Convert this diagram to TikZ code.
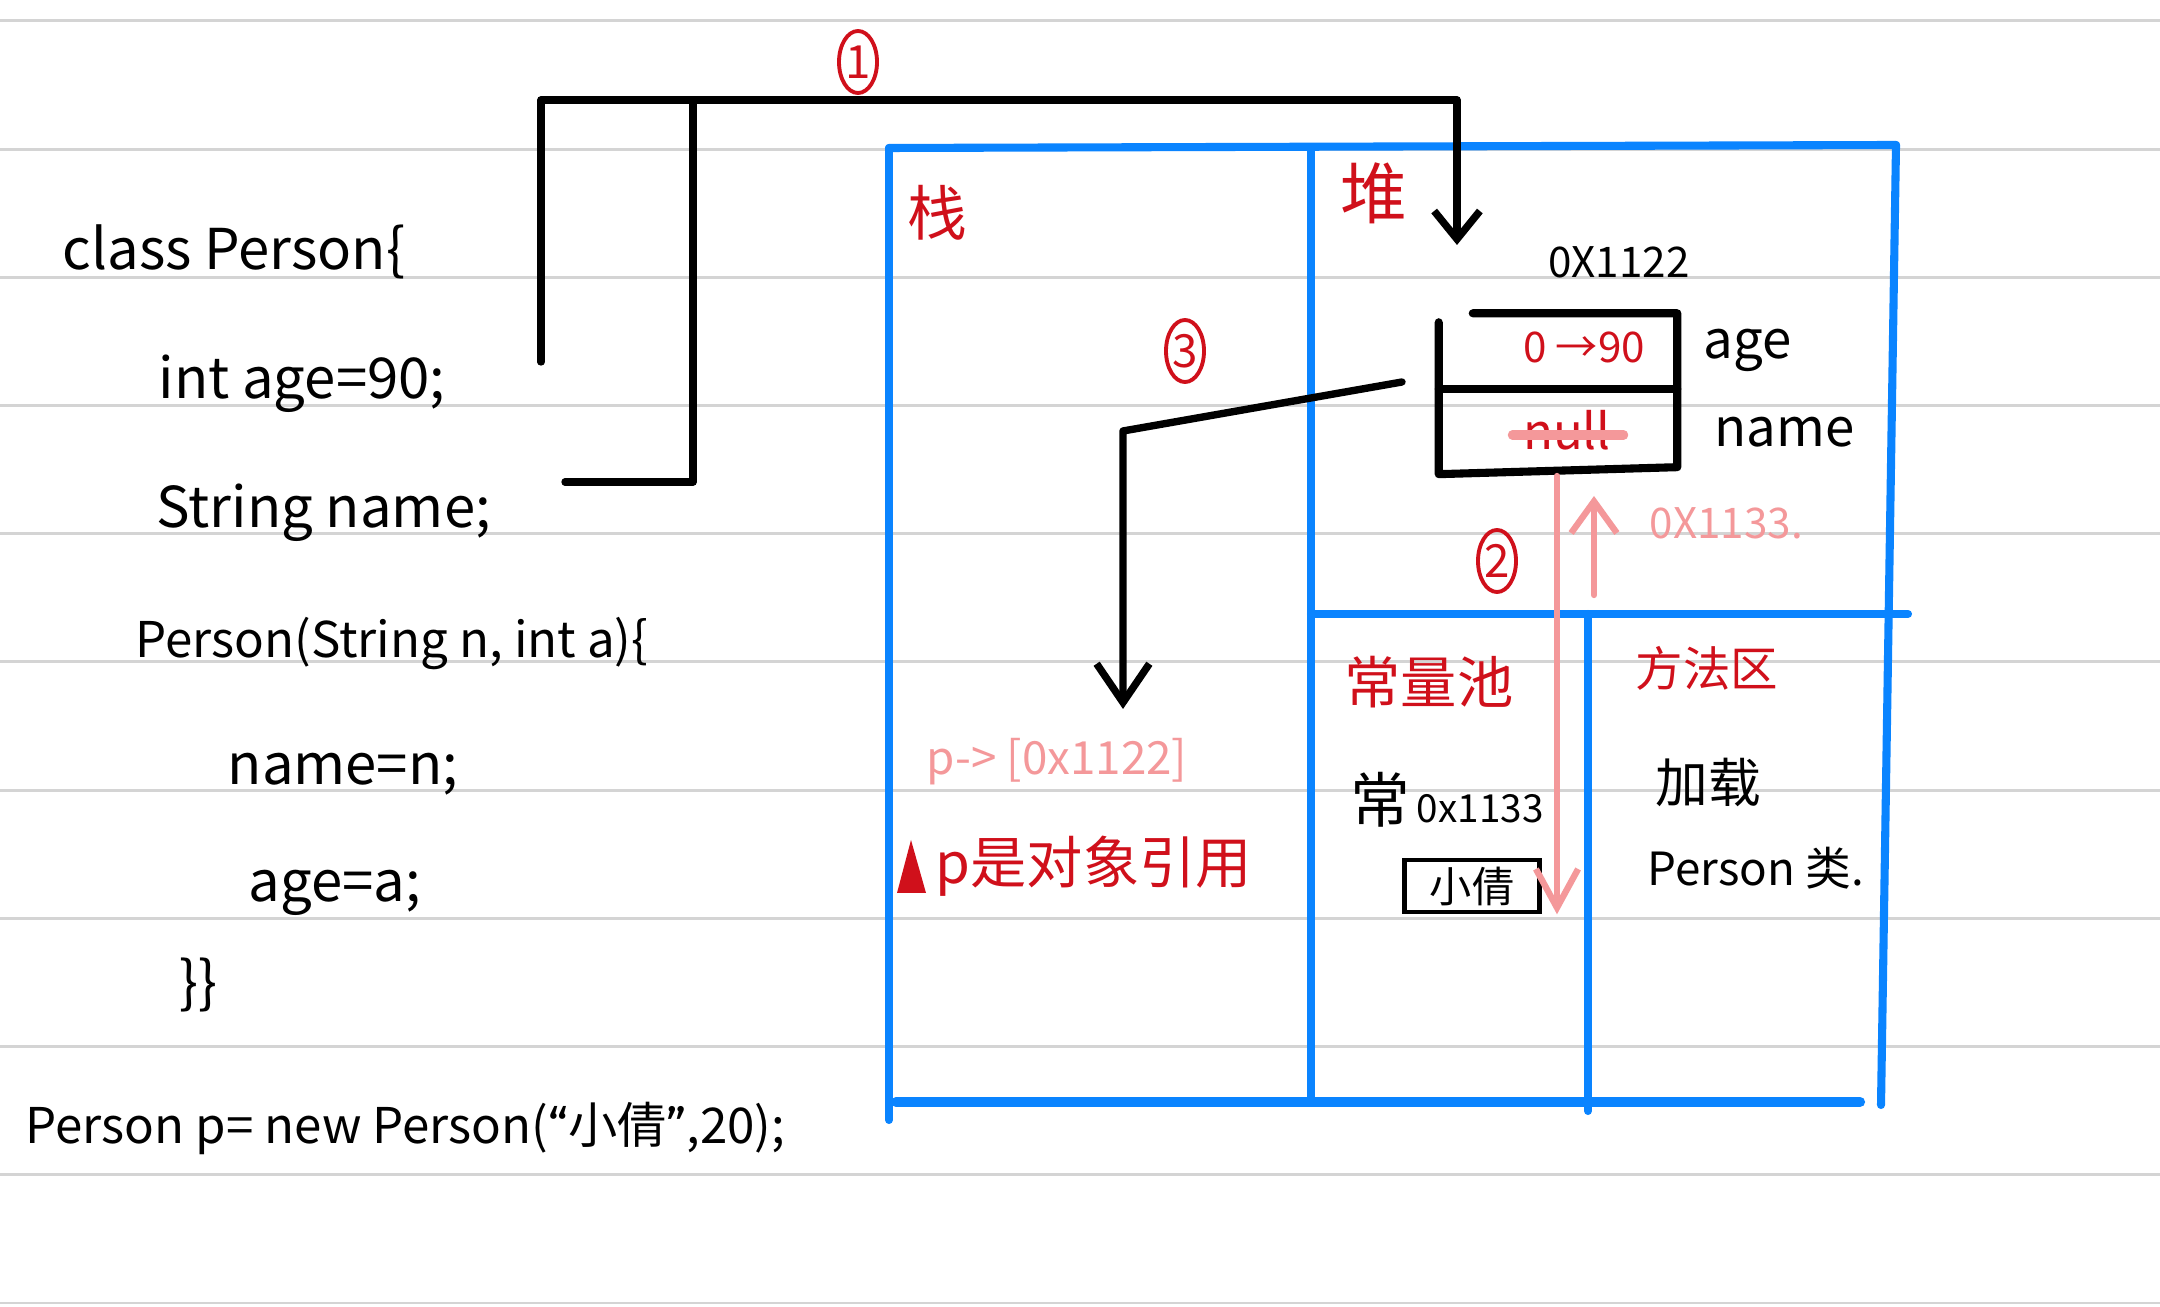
\documentclass[tikz,border=0pt]{standalone}
\usepackage{fontspec}
\setmainfont{Noto Sans CJK SC}
\newfontfamily\quotefont{Fira Sans}
\usetikzlibrary{shapes.geometric, arrows.meta, positioning, calc}
\definecolor{inkred}{HTML}{D0101B}
\definecolor{inkpink}{HTML}{F4989A}
\definecolor{boardblue}{HTML}{0A84FF}
\definecolor{ruleline}{HTML}{D4D4D4}

\begin{document}
\begin{tikzpicture}[
    x=0.01cm, y=-0.01cm,
    code/.style={anchor=base west, inner sep=0pt, font=\fontsize{16}{19}\selectfont},
    area/.style={text=inkred, inner sep=0pt, font=\fontsize{#1}{#1}\selectfont},
    note/.style={inner sep=0pt, font=\fontsize{#1}{#1}\selectfont},
    wall/.style={draw=boardblue, line width=2.3pt, line cap=round},
    rule/.style={draw=ruleline, line width=0.85pt},
    wire/.style={line width=2.1pt, line join=round, line cap=round},
    pointer/.style={wire, -{Straight Barb[length=11pt, width=15pt]}},
    objline/.style={line width=2.3pt, line join=round, line cap=round},
    link/.style={draw=inkpink, line width=1.8pt, line cap=round, -{Straight Barb[length=11pt, width=12pt]}},
    strike/.style={draw=inkpink, line width=2.6pt, line cap=round},
    circled/.style={ellipse, draw=inkred, line width=1.1pt, text=inkred, inner sep=0pt,
                    minimum width=0.38cm, minimum height=0.62cm, font=\fontsize{13}{13}\selectfont}
]

\fill[white] (0,0) rectangle (2160,1307);
\useasboundingbox (0,0) rectangle (2160,1307);

% ruled paper
\foreach \k in {0,...,10}
    \draw[rule] (0,{21+128.2*\k}) -- (2160,{21+128.2*\k});

% source code
\node[code] (cls) at (62,270) {class Person\{};
\node[code] (agefield) at (158,399) {int age=90;};
\node[code] (namefield) at (156,528) {String name;};
\node[code, font=\fontsize{14}{17}\selectfont] (ctor) at (135,658) {Person(String n, int a)\{};
\node[code] (setname) at (227,785) {name=n;};
\node[code] (setage) at (248,902) {age=a;};
\node[code] (closing) at (179,1003) {\}\}};
\node[code, font=\fontsize{14}{17}\selectfont] (newcall) at (25,1143) {Person p= new Person({\quotefont “}小倩{\quotefont ”},20);};

% memory areas
\draw[wall] (889,148) -- (1896,145);
\draw[wall] (889,148) -- (889,1120);
\draw[wall] (1896,145) -- (1881,1105);
\draw[wall] (1311,150) -- (1311,1100);
\draw[wall] (1311,614) -- (1908,614);
\draw[wall] (1588,614) -- (1588,1111);
\draw[wall, line width=2.9pt] (896,1102) -- (1860,1102);

\node[area=17] (stack) at (937,213) {栈};
\node[area=19] (heap) at (1374,193) {堆};
\node[area=16] (pool) at (1429,682) {常量池};
\node[area=13.5] (method) at (1707,668) {方法区};

% object in the heap
\node[note=12] (addr) at (1619,262) {0X1122};
\node[minimum width=2.37cm, minimum height=0.74cm, inner sep=0pt] (agecell) at (1558,351) {};
\node[minimum width=2.37cm, minimum height=0.77cm, inner sep=0pt, below=0pt of agecell] (namecell) {};
\draw[objline] ([xshift=0.34cm]agecell.north west) -- (agecell.north east)
    -- (namecell.south east) -- ([yshift=-0.07cm]namecell.south west)
    -- ([yshift=-0.09cm]agecell.north west);
\draw[objline] (agecell.south west) -- (agecell.south east);

\node[note=12, text=inkred] (ageval) at (1584,347) {0 →90};
\node[note=14, text=inkred] (nullval) at (1567,430) {null};
\draw[strike] ([shift={(-0.1cm,-0.05cm)}]nullval.west) -- ([shift={(0.12cm,-0.05cm)}]nullval.east);
\node[note=15, anchor=west] (agename) at (1703,350) {age};
\node[note=15, anchor=west] (namename) at (1714,432) {name};

% constant pool and method area
\node[note=11, anchor=west] (poolstr) at (1350,800) {{\fontsize{17}{17}\selectfont 常}\,0x1133};
\node[draw, line width=1.3pt, minimum width=1.35cm, minimum height=0.52cm, inner sep=0pt,
      font=\fontsize{12}{12}\selectfont] (strbox) at (1472,886) {小倩};
\node[note=15] (loadtxt) at (1708,782) {加载};
\node[note=13] (classtxt) at (1756,868) {Person 类.};

% reference in the stack
\node[note=13, text=inkpink] (pref) at (1057,762) {p-> [0x1122]};
\fill[inkred] (897,893) -- (911,840) -- (926,893) -- cycle;
\node[note=16, text=inkred, anchor=west] (reftxt) at (935,866) {p是对象引用};

% step 1: class fields into the heap
\coordinate (agesrc) at (541,362);
\coordinate (namesrc) at (565,482);
\coordinate (joint) at (693,100);
\coordinate (topbar) at (1457,100);
\coordinate (heaptip) at (1457,245);
\draw[wire, -{Straight Barb[length=8pt, width=13pt]}] (agesrc) |- (topbar) -- (heaptip);
\draw[wire] (namesrc) -| (joint);
\node[circled] (step1) at (858,62) {1};

% step 2: string from the constant pool
\coordinate (poolsrc) at (1557,476);
\coordinate (retsrc) at (1594,595);
\coordinate (rettip) at (1594,496);
\draw[link] (poolsrc) -- (poolsrc |- strbox.south);
\draw[link, -{Straight Barb[length=9pt, width=13pt]}] (retsrc) -- (rettip);
\node[note=12, text=inkpink, anchor=west] (pooladdr) at (1649,523) {0X1133.};
\node[circled] (step2) at (1497,561) {2};

% step 3: address back to p
\coordinate (objref) at (1402,382);
\coordinate (bend3) at (1123,431);
\coordinate (tip3) at (1123,709);
\draw[pointer] (objref) -- (bend3) -- (tip3);
\node[circled] (step3) at (1185,351) {3};

\end{tikzpicture}
\end{document}
